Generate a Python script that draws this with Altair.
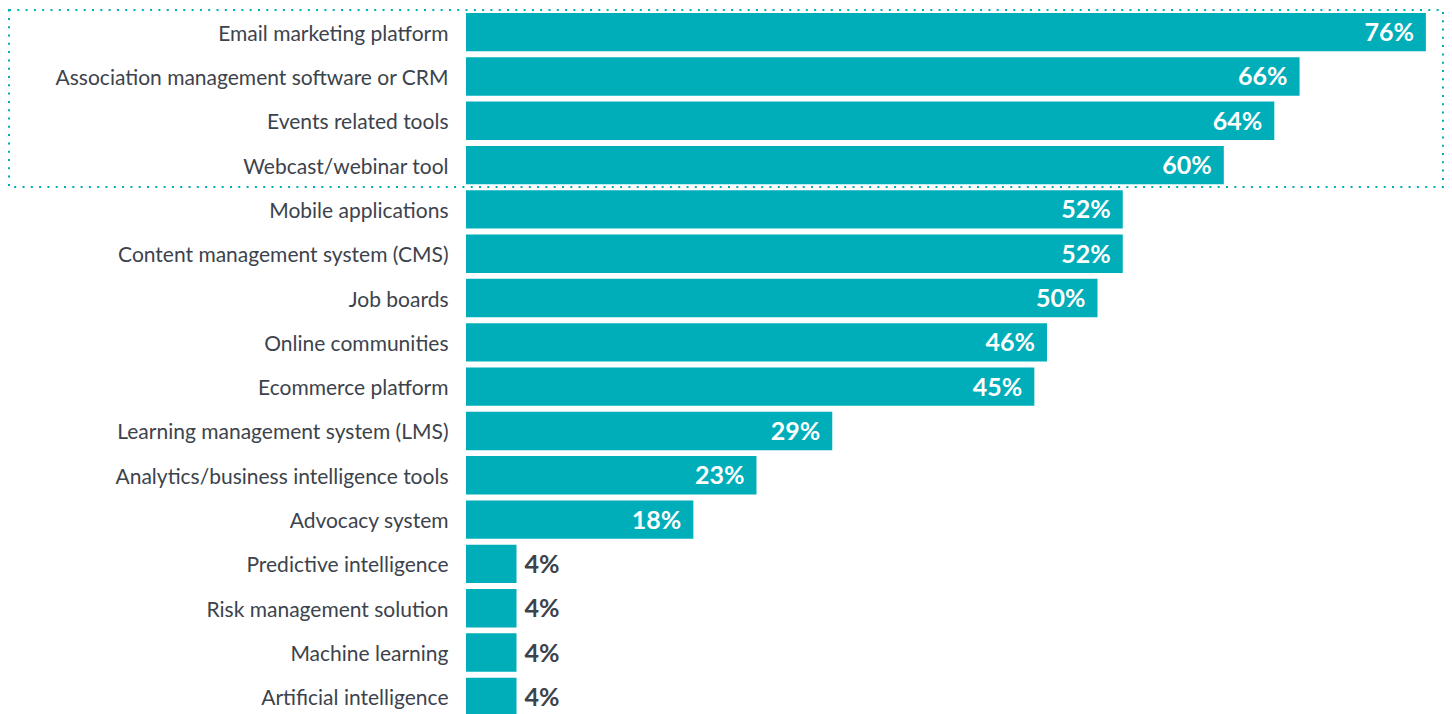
import altair as alt
import pandas as pd

categories = [
    "Email marketing platform",
    "Association management software or CRM",
    "Events related tools",
    "Webcast/webinar tool",
    "Mobile applications",
    "Content management system (CMS)",
    "Job boards",
    "Online communities",
    "Ecommerce platform",
    "Learning management system (LMS)",
    "Analytics/business intelligence tools",
    "Advocacy system",
    "Predictive intelligence",
    "Risk management solution",
    "Machine learning",
    "Artificial intelligence",
]
values = [76, 66, 64, 60, 52, 52, 50, 46, 45, 29, 23, 18, 4, 4, 4, 4]
highlighted = categories[:4]

TEAL = "#00AEBA"
DARK = "#3C434C"

df = pd.DataFrame({"category": categories, "value": values})
df["label"] = df["value"].astype(str) + "%"

y_enc = alt.Y(
    "category:N",
    sort=categories,
    scale=alt.Scale(paddingInner=0.133, paddingOuter=0.0665),
    axis=alt.Axis(
        title=None,
        domain=False,
        ticks=False,
        labelPadding=18,
        labelOffset=2.5,
        labelFontSize=21,
        labelFont="Lato",
        labelColor=DARK,
        labelLimit=500,
    ),
)
x_enc = alt.X(
    "value:Q",
    scale=alt.Scale(domain=[0, 976 / 12.63], nice=False),
    axis=None,
)

base = alt.Chart(df)

bars = base.mark_bar(color=TEAL).encode(x=x_enc, y=y_enc)

inside = base.transform_filter("datum.value >= 10").mark_text(
    align="right", baseline="middle", dx=-12, dy=1,
    font="Lato", fontSize=25, fontWeight="bold", color="white",
).encode(x=x_enc, y=y_enc, text="label:N")

outside = base.transform_filter("datum.value < 10").mark_text(
    align="left", baseline="middle", dx=8, dy=1,
    font="Lato", fontSize=25, fontWeight="bold", color=DARK,
).encode(x=x_enc, y=y_enc, text="label:N")

box_df = pd.DataFrame({"group": ["highlight"], "n": [len(highlighted)]})
box = alt.Chart(box_df).mark_rect(
    fill=None, stroke=TEAL, strokeWidth=2, strokeDash=[2, 6.3], clip=False,
).encode(
    x=alt.value(-457), x2=alt.value(977),
    y=alt.value(0), y2=alt.value(177),
)

chart = alt.layer(bars, inside, outside, box).properties(
    width=976,
    height=709,
    autosize=alt.AutoSizeParams(type="none"),
    padding={"left": 458, "top": 2, "right": 2, "bottom": 0},
).configure_view(stroke=None)

chart.save("out.html", embed_options={"renderer": "svg", "actions": False})
